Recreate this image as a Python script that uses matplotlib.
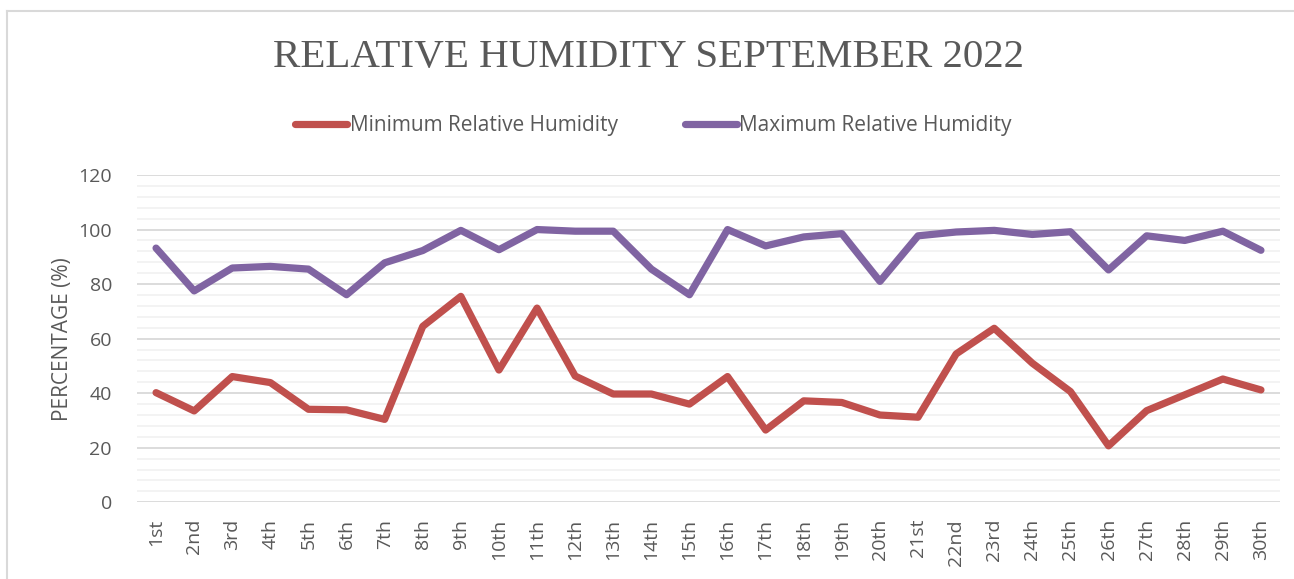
import numpy as np
from matplotlib import pyplot as plt
from matplotlib.lines import Line2D
from matplotlib.ticker import MultipleLocator

days = ['1st', '2nd', '3rd', '4th', '5th', '6th', '7th', '8th', '9th', '10th',
        '11th', '12th', '13th', '14th', '15th', '16th', '17th', '18th', '19th', '20th',
        '21st', '22nd', '23rd', '24th', '25th', '26th', '27th', '28th', '29th', '30th']

min_rh = [40.2, 33.5, 46.1, 43.9, 34.1, 33.9, 30.4, 64.5, 75.5, 48.5,
          71.2, 46.3, 39.7, 39.7, 36.0, 46.1, 26.5, 37.2, 36.6, 32.0,
          31.2, 54.4, 63.8, 51.0, 40.6, 20.7, 33.6, 39.4, 45.2, 41.2]

max_rh = [93.2, 77.5, 85.9, 86.5, 85.5, 76.1, 87.8, 92.3, 99.7, 92.6,
          100.0, 99.4, 99.4, 85.5, 76.1, 100.0, 94.0, 97.3, 98.5, 81.0,
          97.7, 99.1, 99.7, 98.2, 99.2, 85.2, 97.7, 96.0, 99.4, 92.4]

text_grey = '#595959'
red = '#C0504D'
purple = '#8064A2'

fig = plt.figure(figsize=(12.94, 5.79), dpi=100)
ax = fig.add_axes([137 / 1294, 1 - 502.3 / 579, (1280 - 137) / 1294, (502.3 - 175) / 579])

x = np.arange(len(days))
ax.plot(x, min_rh, color=red, lw=5.2, solid_joinstyle='round', solid_capstyle='round',
        label='Minimum Relative Humidity', zorder=3)
ax.plot(x, max_rh, color=purple, lw=5.2, solid_joinstyle='round', solid_capstyle='round',
        label='Maximum Relative Humidity', zorder=3)

ax.set_xlim(-0.5, len(days) - 0.5)
ax.set_ylim(0, 120)
ax.yaxis.set_major_locator(MultipleLocator(20))
ax.yaxis.set_minor_locator(MultipleLocator(4))
ax.grid(which='major', axis='y', color='#D9D9D9', lw=1.3, zorder=1)
ax.grid(which='minor', axis='y', color='#F2F2F2', lw=1.3, zorder=0)
ax.set_axisbelow(True)
for s in ax.spines.values():
    s.set_visible(False)

ax.set_xticks(x)
ax.set_xticklabels(days, rotation=90, fontsize=14, color=text_grey, family='Open Sans')
ax.tick_params(axis='x', length=0, pad=12)
ax.tick_params(axis='y', which='both', length=0, pad=18, labelsize=14, labelcolor=text_grey)
for lab in ax.get_yticklabels():
    lab.set_family('Open Sans')

ax.set_ylabel('PERCENTAGE (%)', color=text_grey, fontsize=15, family='Open Sans', labelpad=4)

fig.text(0.501, 1 - 58 / 579, 'RELATIVE HUMIDITY SEPTEMBER 2022', ha='center', va='center',
         fontsize=29.5, color=text_grey, family='Liberation Serif')

fig.legend(loc='center', bbox_to_anchor=(0.505, 1 - 126 / 579), ncol=2, frameon=False,
           prop={'family': 'Open Sans', 'size': 15}, labelcolor=text_grey,
           handlelength=2.5, handletextpad=0.12, columnspacing=3.2)

# chart border
fig.add_artist(Line2D([7 / 1294, 1], [1 - 11 / 579] * 2, color='#D9D9D9', lw=1.5))
fig.add_artist(Line2D([7 / 1294] * 2, [0, 1 - 11 / 579], color='#D9D9D9', lw=1.5))

fig.savefig('out.png', dpi=100)
